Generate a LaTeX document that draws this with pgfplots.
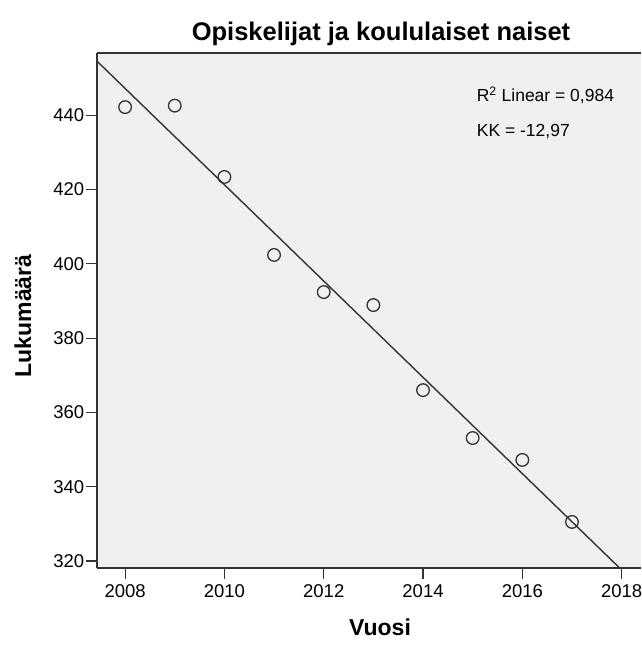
\documentclass[border=0pt]{standalone}
\usepackage{pgfplots}
\pgfplotsset{compat=1.18}
\usepackage{fontspec}
\setmainfont{Liberation Sans}
\definecolor{plotbg}{HTML}{F0F0F0}
\definecolor{axisgray}{HTML}{333333}

\begin{document}
\begin{tikzpicture}
\begin{axis}[
  at={(0,0)}, anchor=south west,
  scale only axis,
  width=543.7pt, height=514.7pt,
  xmin=2007.44, xmax=2018.39,
  ymin=318.1, ymax=456.7,
  clip=false,
  axis x line*=bottom, axis y line*=left,
  axis line style={-, axisgray, line width=1.6pt},
  axis background/.style={fill=plotbg},
  xtick={2008,2010,...,2018},
  ytick={320,340,...,440},
  tick align=outside,
  major tick length=11pt,
  tick style={axisgray, line width=1.2pt},
  tick label style={font=\fontsize{18.5pt}{21pt}\selectfont, text=black},
  /pgf/number format/assume math mode=true,
  x tick label style={/pgf/number format/1000 sep={}, yshift=-2pt},
  y tick label style={/pgf/number format/1000 sep={}, xshift=1.5pt},
]
% observations
\addplot[only marks, mark=o, mark size=6.3pt, mark options={line width=1.3pt, draw=axisgray}]
  coordinates {
    (2008,442.2) (2009,442.6) (2010,423.4) (2011,402.4) (2012,392.4)
    (2013,388.9) (2014,366.0) (2015,353.1) (2016,347.2) (2017,330.5)
  };
% fitted line, slope -12.97
\addplot[axisgray, line width=1.4pt] coordinates {(2007.44,454.5) (2017.96,318.1)};
\draw[axisgray, line width=1.6pt] (rel axis cs:0,1) -- (rel axis cs:1,1);
\node[anchor=west, font=\fontsize{17.5pt}{20pt}\selectfont, inner sep=0pt]
  at (axis cs:2015.08,445.4) {R\textsuperscript{2} Linear = 0,984};
\node[anchor=west, font=\fontsize{17.5pt}{20pt}\selectfont, inner sep=0pt]
  at (axis cs:2015.08,435.7) {KK = -12,97};
\end{axis}
\node[font=\bfseries\fontsize{25.5pt}{29pt}\selectfont] at (283.7pt,534pt) {Opiskelijat ja koululaiset naiset};
\node[font=\bfseries\fontsize{23pt}{27pt}\selectfont, rotate=90] at (-74.3pt,252pt) {Lukumäärä};
\node[font=\bfseries\fontsize{23pt}{27pt}\selectfont] at (282.7pt,-59pt) {Vuosi};
\pgfresetboundingbox
\path (-97.3pt,-79pt) rectangle (543.7pt,568pt);
\end{tikzpicture}
\end{document}
